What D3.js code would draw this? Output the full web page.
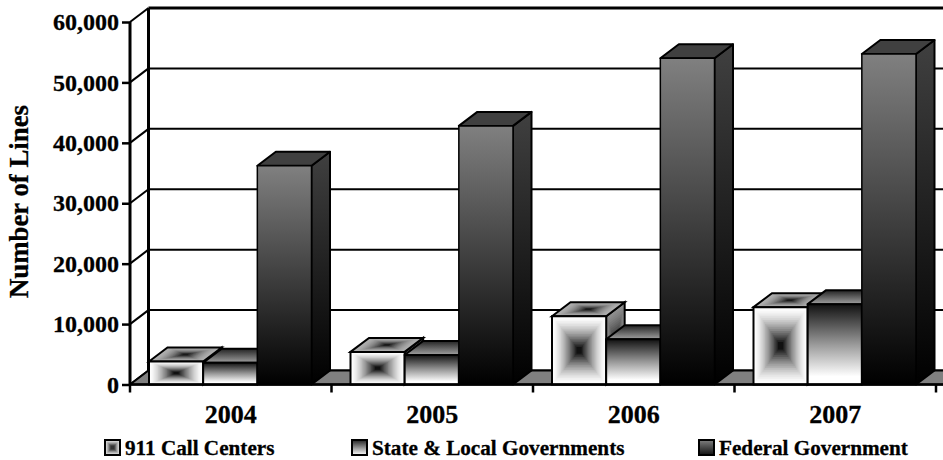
<!DOCTYPE html>
<html><head><meta charset="utf-8">
<script src="https://cdn.jsdelivr.net/npm/d3@7"></script>
<style>html,body{margin:0;padding:0;background:#fff;overflow:hidden}svg{display:block}text{font-family:"Liberation Serif","Times New Roman",serif;font-weight:700;fill:#000;stroke:#000;stroke-width:.3px}</style>
</head><body><svg id="c" width="943" height="460"></svg>
<script>
const years = ["2004","2005","2006","2007"];
const seriesNames = ["911 Call Centers","State & Local Governments","Federal Government"];
const callCenters = [3800,5400,11300,12800];
const stateLocal = [3600,4900,7500,13300];
const federal = [36200,42800,54000,54700];
const yTicks = [0,10000,20000,30000,40000,50000,60000];

const svg = d3.select("#c"), defs = svg.append("defs");
const dx = 18.5, dy = -14;
const x = d3.scaleBand().domain(years).range([130,936]);
const inner = d3.scaleBand().domain(seriesNames).range([19,181.5]);
const y = d3.scaleLinear().domain([0,60000]).range([384.5,22]);
const values = [callCenters,stateLocal,federal];

function lin(id,stops){
  const g = defs.append("linearGradient").attr("id",id).attr("x1",0).attr("x2",0).attr("y1",0).attr("y2",1);
  stops.forEach(([o,c])=>g.append("stop").attr("offset",o).attr("stop-color",c));
  return `url(#${id})`;
}
const fedFront = lin("fedF",[[0,"#808080"],[1,"#000"]]);
const fedSide = lin("fedS",[[0,"#404040"],[1,"#000"]]);
const fedTop = "#404040";
const slFront = lin("slF",[[0,"#111"],[0.5,"#999"],[0.9,"#fff"],[1,"#fff"]]);
const slTop = lin("slT",[[0,"#222"],[1,"#a0a0a0"]]);
const slSide = lin("slS",[[0,"#555"],[1,"#000"]]);
const line = d3.line();

const g0 = svg.append("g");
yTicks.forEach(t=>{
  g0.append("line").attr("x1",x.range()[0]+dx).attr("x2",960).attr("y1",y(t)+dy).attr("y2",y(t)+dy)
    .attr("stroke","#000").attr("stroke-width",t===60000?3:2);
  g0.append("line").attr("x1",x.range()[0]).attr("x2",x.range()[0]+dx).attr("y1",y(t)).attr("y2",y(t)+dy)
    .attr("stroke","#000").attr("stroke-width",2);
});
g0.append("line").attr("x1",x.range()[0]+dx).attr("x2",x.range()[0]+dx).attr("y1",y(0)+dy).attr("y2",y(60000)+dy).attr("stroke","#000").attr("stroke-width",3);
g0.append("path").attr("d",line([[x.range()[0],y(0)],[x.range()[0]+dx,y(0)+dy],[x.range()[1]+dx+10,y(0)+dy],[x.range()[1]+10,y(0)]])+"Z")
  .attr("fill","#808080").attr("stroke","#000").attr("stroke-width",2);

function concentric(parent,pts,outer,centre,steps,coreScale,gamma){
  const cx=d3.mean(pts,p=>p[0]), cy=d3.mean(pts,p=>p[1]);
  const col=d3.interpolateRgb(outer,centre);
  d3.range(steps).forEach(i=>{
    const k=1-i/steps*(1-coreScale), t=Math.pow(i/(steps-1),gamma||1);
    parent.append("path").attr("d",line(pts.map(p=>[cx+(p[0]-cx)*k,cy+(p[1]-cy)*k]))+"Z").attr("fill",col(t));
  });
  parent.append("path").attr("d",line(pts)+"Z").attr("fill","none").attr("stroke","#000").attr("stroke-width",2);
}

years.forEach((yr,i)=>{
  const g = svg.append("g");
  seriesNames.forEach((s,j)=>{
    const v = values[j][i], x0 = x(yr)+inner(s), x1 = x0+inner.bandwidth(), yt = y(v), yb = y(0);
    const side = [[x1,yt],[x1+dx,yt+dy],[x1+dx,yb+dy],[x1,yb]];
    const top = [[x0,yt],[x0+dx,yt+dy],[x1+dx,yt+dy],[x1,yt]];
    const front = [[x0,yt],[x1,yt],[x1,yb],[x0,yb]];
    const q=(pts,fill,sw)=>g.append("path").attr("d",line(pts)+"Z").attr("fill",fill).attr("stroke","#000").attr("stroke-width",sw).attr("stroke-linejoin","round");
    if(j===0){
      concentric(g,side,"#909090","#222",14,0.05,1.3);
      concentric(g,top,"#b0b0b0","#1a1a1a",16,0.05,1.8);
      concentric(g,front,"#ffffff","#111111",20,0.05,1.5);
    } else if(j===1){
      q(side,slSide,2); q(top,slTop,2); q(front,slFront,2);
    } else {
      q(side,fedSide,2); q(top,fedTop,2); q(front,fedFront,1.5);
    }
  });
});

const axY = d3.axisLeft(y).tickValues(yTicks).tickFormat(d3.format(",")).tickSize(8).tickPadding(3);
const ay = svg.append("g").attr("transform",`translate(${x.range()[0]},0)`).call(axY);
ay.attr("font-family",null).attr("font-size",null);
ay.select(".domain").attr("stroke","#000").attr("stroke-width",3).attr("d",`M0,${y(60000)}V${y(0)}`);
ay.selectAll(".tick line").attr("stroke","#000").attr("stroke-width",2.5);
ay.selectAll("text").attr("font-size",24).attr("dy","0.32em");

const ax = svg.append("g");
ax.append("line").attr("x1",x.range()[0]).attr("x2",943).attr("y1",y(0)).attr("y2",y(0)).attr("stroke","#000").attr("stroke-width",2.5);
const edges = years.map(d=>x(d)).concat(x.range()[1]);
ax.selectAll("line.t").data(edges).join("line").attr("class","t").attr("x1",d=>d).attr("x2",d=>d).attr("y1",y(0)).attr("y2",y(0)+8).attr("stroke","#000").attr("stroke-width",2.5);
ax.selectAll("text").data(years).join("text").attr("x",d=>x(d)+x.bandwidth()/2).attr("y",422.5).attr("text-anchor","middle").attr("font-size",26).text(d=>d);

svg.append("text").attr("transform","translate(28,201.5) rotate(-90)").attr("text-anchor","middle").attr("font-size",26.8).text("Number of Lines");

const legX = [105,352,699];
const swatchFill = [null,lin("lgS",[[0,"#222"],[1,"#fff"]]),lin("lgF",[[0,"#808080"],[1,"#111"]])];
seriesNames.forEach((s,i)=>{
  const g=svg.append("g");
  const pts=[[legX[i],440],[legX[i]+15,440],[legX[i]+15,455],[legX[i],455]];
  if(i===0) concentric(g,pts,"#e8e8e8","#333",8,0.15,1.2);
  else g.append("path").attr("d",line(pts)+"Z").attr("fill",swatchFill[i]).attr("stroke","#000").attr("stroke-width",2);
  g.append("text").attr("x",legX[i]+20).attr("y",455).attr("font-size",21.2).text(s);
});
</script></body></html>
